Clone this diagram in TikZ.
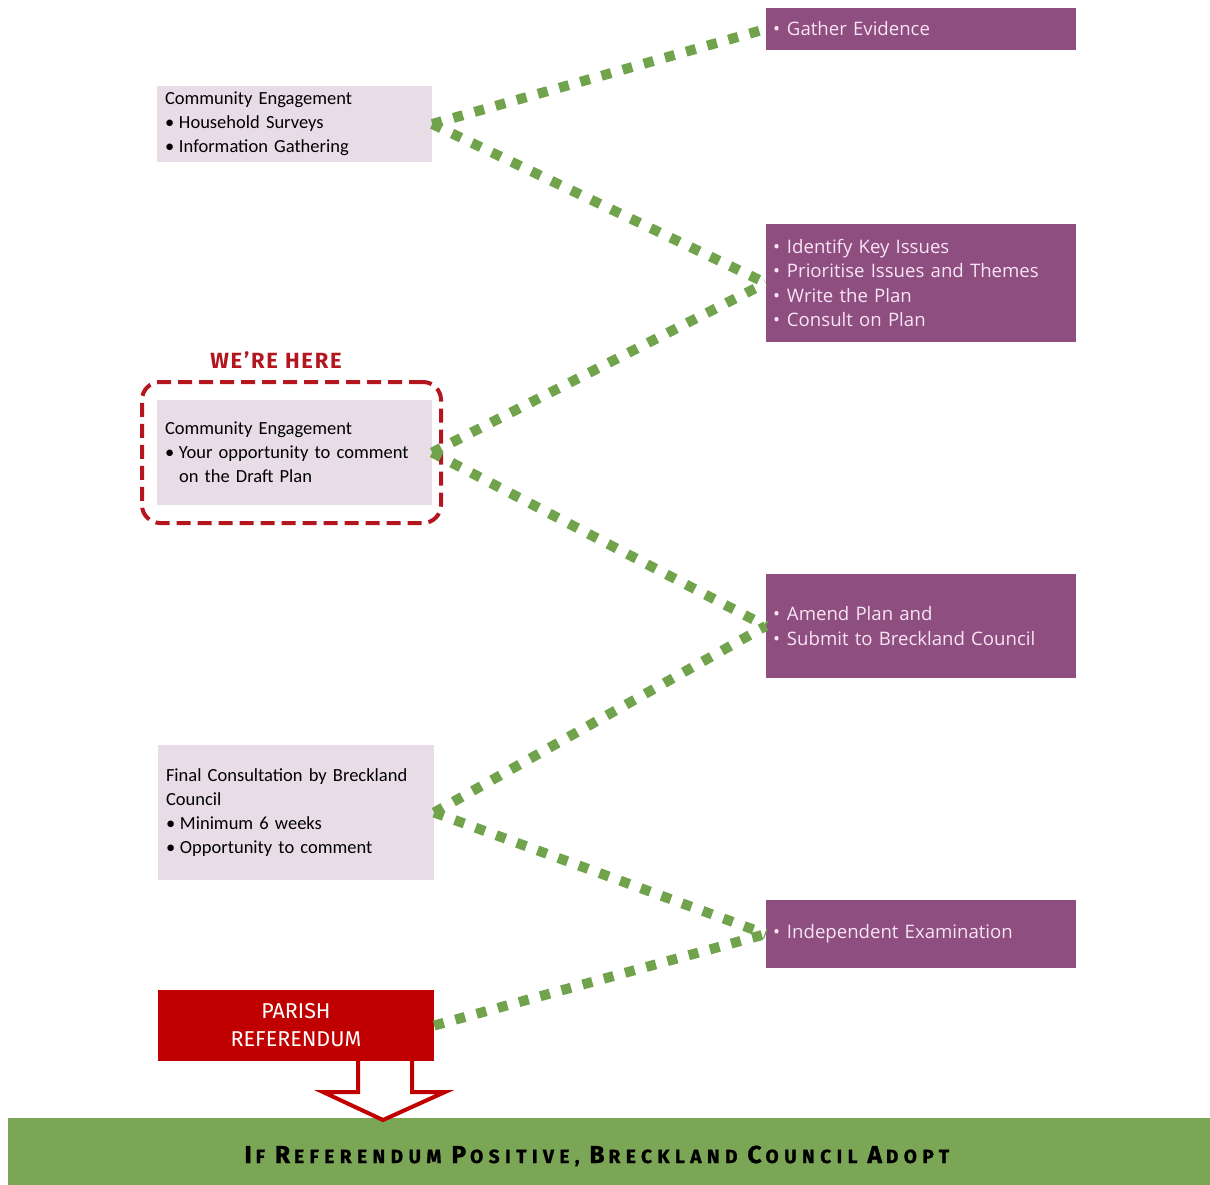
\documentclass[tikz,border=0pt]{standalone}
\usepackage{fontspec}
\setmainfont{Carlito}
\newfontfamily\purplefont{Open Sans}
\newfontfamily\redfont{Fira Sans}
\newfontfamily\bannerfont[LetterSpace=29,FakeBold=1.2]{Fira Sans}

\definecolor{planpurple}{RGB}{142,78,128}
\definecolor{purpletext}{RGB}{248,228,244}
\definecolor{lightbg}{RGB}{232,221,231}
\definecolor{dotgreen}{RGB}{112,163,75}
\definecolor{bargreen}{RGB}{123,166,85}
\definecolor{herered}{RGB}{180,22,32}
\definecolor{parishred}{RGB}{192,0,0}

\newcommand\bitem{\hangindent=14pt\hangafter=1\makebox[14pt][l]{\textbullet}}
\newcommand\pitem{\hangindent=14pt\hangafter=1\makebox[14pt][l]{\textbullet}}
\newcommand\capl[1]{{\fontsize{24.5}{24.5}\selectfont #1}\kern4pt}

\begin{document}
\begin{tikzpicture}[x=1pt,y=-1pt,
    lightbox/.style={fill=lightbg, inner xsep=8pt, text width=259pt,
      minimum height=#1, align=left, font=\fontsize{18.5}{24}\selectfont},
    stepbox/.style={fill=planpurple, text=purpletext, inner xsep=7pt,
      text width=296pt, minimum height=#1, align=left,
      font=\purplefont\fontsize{18.6}{24.5}\selectfont},
    link/.style={draw=dotgreen, line width=10pt, dash pattern=on 10pt off 12pt}]
    \useasboundingbox (0,0) rectangle (1210,1185);

    % left column
    \node[lightbox=76pt] (engage) at (294.5,124){Community Engagement\par
      \bitem Household Surveys\par
      \bitem Information Gathering};

    \node[draw=herered, line width=4pt, dash pattern=on 14pt off 7pt,
      rounded corners=18pt, minimum width=299pt, minimum height=141pt] (here) at (291.5,452.5){};
    \node[text=herered, font=\redfont\bfseries\fontsize{22}{22}\selectfont\addfontfeatures{LetterSpace=8}] (heretext) at (276,360){WE’RE HERE};
    \node[lightbox=105pt] (draft) at (294.5,452.5){Community Engagement\par
      \bitem Your opportunity to comment\par
      \hspace*{14pt}on the Draft Plan};

    \node[lightbox=135pt, text width=260pt] (final) at (296,812.5){Final Consultation by Breckland\\Council\par
      \bitem Minimum 6 weeks\par
      \bitem Opportunity to comment};

    \node[fill=parishred, text=white, minimum width=276pt, minimum height=71pt,
      align=center, font=\redfont\fontsize{21.5}{28}\selectfont] (parish) at (296,1025.5){PARISH\\REFERENDUM};

    % right column
    \node[stepbox=42pt] (gather) at (921,29){\pitem Gather Evidence};
    \node[stepbox=118pt] (issues) at (921,283){\pitem Identify Key Issues\par
      \pitem Prioritise Issues and Themes\par
      \pitem Write the Plan\par
      \pitem Consult on Plan};
    \node[stepbox=104pt] (amend) at (921,626){\pitem Amend Plan and\par
      \pitem Submit to Breckland Council};
    \node[stepbox=68pt] (exam) at (921,934){\pitem Independent Examination};

    % links
    \draw[link] (engage.east) -- (gather.west);
    \draw[link] (engage.east) -- (issues.west);
    \draw[link] (draft.east) -- (issues.west);
    \draw[link] (draft.east) -- (amend.west);
    \draw[link] (final.east) -- (amend.west);
    \draw[link] (final.east) -- (exam.west);
    \draw[link] (parish.east) -- (exam.west);

    % adopt bar
    \node[fill=bargreen, minimum width=1202pt, minimum height=67pt] (adopt) at (609,1151.5){};
    \node[text=black, anchor=base west,
      font=\bannerfont\bfseries\fontsize{19}{19}\selectfont] (adopttext) at (241,1163)
      {\capl{I}F \capl{R}EFERENDUM \capl{P}OSITIVE, \capl{B}RECKLAND \capl{C}OUNCIL \capl{A}DOPT};
    \draw[draw=parishred, fill=white, line width=4pt, line join=miter]
      (358,1061) -- (358,1092) -- (323,1092) -- (383,1120) -- (445,1092)
      -- (412,1092) -- (412,1061);
\end{tikzpicture}
\end{document}
